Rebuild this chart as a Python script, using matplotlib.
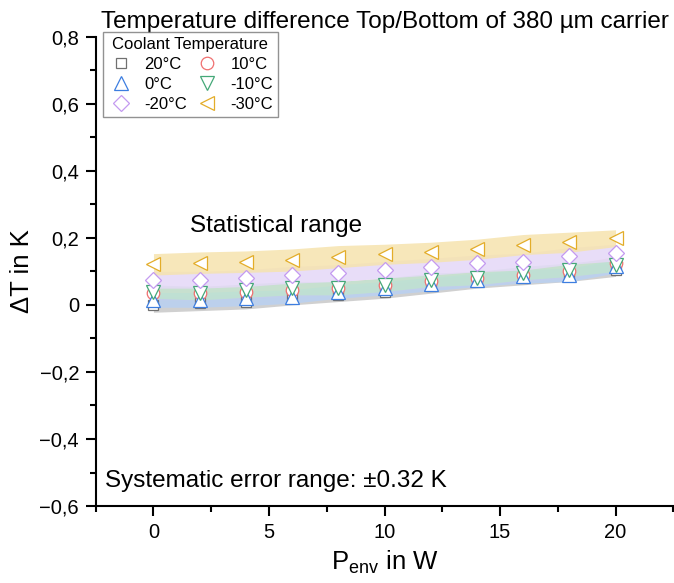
import matplotlib
matplotlib.use("Agg")
import matplotlib.pyplot as plt
from matplotlib.ticker import FuncFormatter, MultipleLocator

plt.rcParams['font.family'] = ['Liberation Sans', 'DejaVu Sans']

power = [0, 2, 4, 6, 8, 10, 12, 14, 16, 18, 20]
labels = ['20°C', '10°C', '0°C', '-10°C', '-20°C', '-30°C']

dt_20 = [0.000, 0.005, 0.010, 0.020, 0.030, 0.040, 0.055, 0.070, 0.080, 0.090, 0.105]
dt_10 = [0.035, 0.035, 0.040, 0.045, 0.050, 0.060, 0.070, 0.080, 0.090, 0.100, 0.125]
dt_0 = [0.015, 0.015, 0.020, 0.025, 0.040, 0.050, 0.062, 0.075, 0.085, 0.090, 0.115]
dt_m10 = [0.040, 0.035, 0.043, 0.050, 0.050, 0.060, 0.075, 0.080, 0.095, 0.105, 0.120]
dt_m20 = [0.075, 0.075, 0.080, 0.090, 0.095, 0.105, 0.114, 0.124, 0.129, 0.146, 0.156]
dt_m30 = [0.121, 0.126, 0.129, 0.134, 0.144, 0.151, 0.157, 0.166, 0.180, 0.187, 0.199]

# half width of the statistical range
err_20 = [0.022, 0.022, 0.022, 0.020, 0.020, 0.020, 0.020, 0.020, 0.020, 0.020, 0.020]
err_10 = [0.020] * 11
err_0 = [0.022, 0.022, 0.022, 0.020, 0.020, 0.020, 0.020, 0.020, 0.020, 0.020, 0.020]
err_m10 = [0.020, 0.020, 0.020, 0.020, 0.020, 0.020, 0.020, 0.020, 0.020, 0.020, 0.020]
err_m20 = [0.025, 0.025, 0.025, 0.025, 0.025, 0.025, 0.025, 0.025, 0.025, 0.025, 0.025]
err_m30 = [0.032, 0.032, 0.032, 0.033, 0.033, 0.030, 0.030, 0.030, 0.030, 0.030, 0.025]

series = [dt_20, dt_10, dt_0, dt_m10, dt_m20, dt_m30]
errors = [err_20, err_10, err_0, err_m10, err_m20, err_m30]
colors = ['#707070', '#f07070', '#3d7ee0', '#45a878', '#c49af0', '#e3ad2a']
fills = ['#c8c8c8', '#f5c8c8', '#b9d0f2', '#bfe3cf', '#e5d8f7', '#f6e3ae']
markers = ['s', 'o', '^', 'v', 'D', '<']
sizes = [7, 9, 9.5, 9.5, 8, 9.5]

fig = plt.figure(figsize=(6.74, 5.83), dpi=100)
ax = fig.add_axes([0.142, 0.132, 0.857, 0.805])

for y, e, c, f in zip(series, errors, colors, fills):
    lo = [a - b for a, b in zip(y, e)]
    hi = [a + b for a, b in zip(y, e)]
    ax.fill_between(power, lo, hi, color=f, alpha=0.85, linewidth=0)

handles = []
for y, c, m, s, lab in zip(series, colors, markers, sizes, labels):
    h, = ax.plot(power, y, linestyle='none', marker=m, markersize=s,
                 markerfacecolor='white', markeredgecolor=c, markeredgewidth=0.9,
                 label=lab)
    handles.append(h)

ax.set_xlim(-2.5, 22.5)
ax.set_ylim(-0.6, 0.8)
ax.xaxis.set_major_locator(MultipleLocator(5))
ax.xaxis.set_minor_locator(MultipleLocator(2.5))
ax.yaxis.set_major_locator(MultipleLocator(0.2))
ax.yaxis.set_minor_locator(MultipleLocator(0.1))


def comma_fmt(v, pos):
    if abs(v) < 1e-9:
        return '0'
    s = f'{v:.1f}'.replace('.', ',')
    return s.replace('-', '\u2212')


ax.yaxis.set_major_formatter(FuncFormatter(comma_fmt))
ax.spines['top'].set_visible(False)
ax.spines['right'].set_visible(False)
ax.spines['left'].set_linewidth(1.5)
ax.spines['bottom'].set_linewidth(1.5)
ax.tick_params(which='major', direction='out', length=7, width=1.5, labelsize=14.5, pad=5)
ax.tick_params(which='minor', direction='out', length=4, width=1.5)

ax.set_xlabel('P$_\\mathregular{env}$ in W', fontsize=18.5, labelpad=5)
ax.set_ylabel('\u0394T in K', fontsize=18.5, labelpad=4)
ax.set_title('Temperature difference Top/Bottom of 380 \u00b5m carrier', fontsize=17.5, pad=6)

ax.text(1.6, 0.235, 'Statistical range', fontsize=17.5, va='center')
ax.text(-2.1, -0.525, 'Systematic error range: \u00b10.32 K', fontsize=17.5, va='center')

# legend filled row by row
order = [0, 2, 4, 1, 3, 5]
leg = ax.legend([handles[i] for i in order], [labels[i] for i in order],
                loc='upper left', ncol=2, title='Coolant Temperature', fontsize=12,
                title_fontsize=12, frameon=True, fancybox=False, edgecolor='#777777',
                borderpad=0.3, handletextpad=0.6, columnspacing=0.4, labelspacing=0.3,
                handlelength=1.6, borderaxespad=0, bbox_to_anchor=(0.012, 1.01))
leg.get_frame().set_linewidth(1.0)

fig.savefig('out.png', dpi=100)
